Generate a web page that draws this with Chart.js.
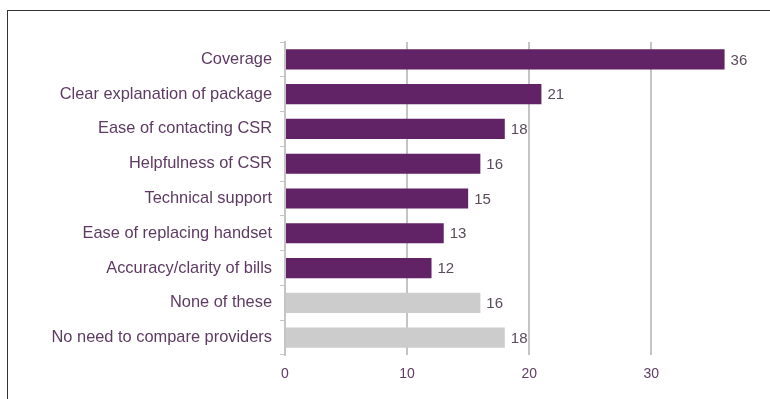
<!DOCTYPE html>
<html>
<head>
<meta charset="utf-8">
<script src="https://cdn.jsdelivr.net/npm/chart.js@4.4.0/dist/chart.umd.min.js"></script>
<style>
    html, body { margin: 0; padding: 0; background: #fff; }
    .frame {
        position: absolute; left: 7px; top: 10px; width: 763px; height: 389px;
        border-top: 1px solid #333; border-left: 1px solid #333;
    }
    .wrap { position: absolute; left: 0; top: 0; width: 770px; height: 399px; }
</style>
</head>
<body>
<div class="frame"></div>
<div class="wrap"><canvas id="chart" width="770" height="399"></canvas></div>
<script>
// Chart data
const categories = [
    'Coverage',
    'Clear explanation of package',
    'Ease of contacting CSR',
    'Helpfulness of CSR',
    'Technical support',
    'Ease of replacing handset',
    'Accuracy/clarity of bills',
    'None of these',
    'No need to compare providers'
];
const values = [36, 21, 18, 16, 15, 13, 12, 16, 18];
const barColors = ['#612266', '#612266', '#612266', '#612266', '#612266', '#612266', '#612266', '#cccccc', '#cccccc'];
const xTicks = [0, 10, 20, 30];

const labelColor = '#5e3a63';

// Value labels to the right of each bar
const valueLabels = {
    id: 'valueLabels',
    afterDatasetsDraw(chart) {
        const ctx = chart.ctx;
        const meta = chart.getDatasetMeta(0);
        ctx.save();
        ctx.font = '15px "Liberation Sans", Arial, sans-serif';
        ctx.fillStyle = '#5a4a5e';
        ctx.textBaseline = 'middle';
        meta.data.forEach(function(bar, i) {
            ctx.fillText(String(values[i]), bar.x + 6, bar.y + 1);
        });
        ctx.restore();
    }
};

const ctx = document.getElementById('chart').getContext('2d');
const chart = new Chart(ctx, {
    type: 'bar',
    data: {
        labels: categories,
        datasets: [{
            data: values,
            backgroundColor: barColors,
            borderWidth: 0,
            categoryPercentage: 1.0,
            barPercentage: 0.58
        }]
    },
    options: {
        indexAxis: 'y',
        responsive: false,
        animation: false,
        layout: { padding: { top: 42, right: 21, bottom: 0, left: 0 } },
        plugins: {
            legend: { display: false },
            tooltip: { enabled: false }
        },
        scales: {
            x: {
                min: 0,
                max: 38,
                afterBuildTicks: function(axis) {
                    axis.ticks = xTicks.map(function(v) { return { value: v }; });
                },
                afterFit: function(axis) { axis.height = 44; },
                grid: {
                    color: '#c4c4c4',
                    lineWidth: 2,
                    drawTicks: false
                },
                border: { display: false },
                ticks: {
                    padding: 11,
                    color: labelColor,
                    font: { family: '"Liberation Sans", Arial, sans-serif', size: 14 }
                }
            },
            y: {
                afterFit: function(axis) { axis.width = 285; },
                grid: {
                    offset: true,
                    drawOnChartArea: false,
                    tickLength: 5,
                    color: '#c4c4c4'
                },
                border: { display: true, color: '#c4c4c4', width: 2 },
                ticks: {
                    padding: 8,
                    color: labelColor,
                    font: { family: '"Liberation Sans", Arial, sans-serif', size: 16.4 }
                }
            }
        }
    },
    plugins: [valueLabels]
});
</script>
</body>
</html>
